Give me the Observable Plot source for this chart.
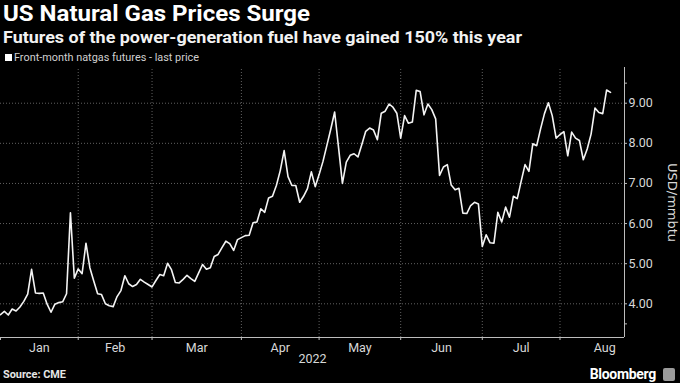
<!DOCTYPE html>
<html>
<head>
<meta charset="utf-8">
<script src="https://cdn.jsdelivr.net/npm/d3@7"></script>
<script src="https://cdn.jsdelivr.net/npm/@observablehq/plot@0.6"></script>
<style>
  html, body { margin: 0; padding: 0; background: #000; }
  body { width: 680px; height: 383px; overflow: hidden; position: relative; font-family: "Roboto", "Liberation Sans", sans-serif; }
  .hdr { position: relative; height: 62px; }
  .title { position: absolute; left: 3px; top: 1px; font-size: 22px; font-weight: 700; color: #fff; white-space: nowrap; transform-origin: 0 0; }
  .subtitle { position: absolute; left: 3px; top: 28px; font-size: 16px; font-weight: 700; color: #f2f2f2; white-space: nowrap; transform-origin: 0 0; }
  .legend { position: absolute; left: 5px; top: 51px; font-size: 11px; color: #d0d0d0; white-space: nowrap; display: flex; align-items: center; }
  .legend .sw { width: 7px; height: 7px; background: #fff; margin-right: 2px; display: inline-block; }
  .legend .lt { display: inline-block; transform-origin: 0 50%; }
  #chart svg { display: block; }
  .ftr { position: relative; height: 15px; }
  .src { position: absolute; left: 3px; top: 0px; font-size: 11px; font-weight: 700; color: #e6e6e6; white-space: nowrap; transform-origin: 0 0; }
  .bb { position: absolute; right: 24px; top: -2px; font-size: 14px; font-weight: 700; color: #fff; white-space: nowrap; letter-spacing: -0.3px; }
  .logo { position: absolute; right: 5px; top: 0px; width: 12px; height: 13px; background: #9a9a9a; border-radius: 2px; }
</style>
</head>
<body>
<div class="hdr">
  <div class="title" id="title">US Natural Gas Prices Surge</div>
  <div class="subtitle" id="subtitle">Futures of the power-generation fuel have gained 150% this year</div>
  <div class="legend"><span class="sw"></span><span class="lt" id="legendText">Front-month natgas futures - last price</span></div>
</div>
<div id="chart"></div>
<div class="ftr">
  <div class="src" id="src">Source: CME</div>
  <div class="bb">Bloomberg</div>
  <div class="logo"></div>
</div>
<script>
// Month labels and number of trading days in each month (first point is 2021-12-31)
const months = ["Jan", "Feb", "Mar", "Apr", "May", "Jun", "Jul", "Aug"];
const tradingDaysPerMonth = [20, 19, 23, 20, 21, 21, 20, 23];
const yearLabel = "2022";
const yTicks = [4, 5, 6, 7, 8, 9];
const yMinorTicks = [3.5, 9.5];
const seriesName = "Front-month natgas futures - last price";
const yLabel = "USD/mmbtu";

// Front-month natgas futures, last price (USD/mmbtu), one per trading day from Dec 31 2021
const prices = [
  3.73, 3.81, 3.72, 3.87, 3.82, 3.92, 4.06, 4.24, 4.86, 4.27,
  4.26, 4.27, 3.99, 3.79, 3.99, 4.03, 4.05, 4.25, 6.27, 4.64,
  4.87, 4.75, 5.51, 4.90, 4.57, 4.25, 4.23, 4.00, 3.95, 3.93,
  4.18, 4.33, 4.70, 4.50, 4.43, 4.48, 4.61, 4.54, 4.48, 4.42,
  4.58, 4.73, 4.70, 5.01, 4.85, 4.53, 4.52, 4.61, 4.71, 4.63,
  4.56, 4.77, 4.98, 4.86, 4.90, 5.18, 5.23, 5.40, 5.56, 5.50,
  5.33, 5.60, 5.65, 5.70, 5.71, 6.02, 6.04, 6.37, 6.28, 6.64,
  6.68, 6.95, 7.32, 7.82, 7.17, 6.95, 6.95, 6.53, 6.68, 6.87,
  7.29, 6.92, 7.22, 7.55, 7.95, 8.35, 8.78, 7.90, 7.00, 7.53,
  7.70, 7.74, 7.66, 7.97, 8.30, 8.38, 8.33, 8.09, 8.75, 8.80,
  8.98, 8.90, 8.75, 8.13, 8.69, 8.50, 8.53, 9.32, 9.29, 8.71,
  8.98, 8.84, 8.61, 7.20, 7.41, 7.47, 6.96, 6.84, 6.88, 6.26,
  6.25, 6.45, 6.53, 6.49, 5.43, 5.72, 5.52, 5.51, 6.28, 6.04,
  6.41, 6.16, 6.68, 6.62, 7.05, 7.47, 7.30, 7.99, 7.94, 8.36,
  8.74, 9.01, 8.69, 8.13, 8.22, 8.29, 7.69, 8.28, 8.13, 8.07,
  7.59, 7.86, 8.23, 8.88, 8.77, 8.74, 9.33, 9.27
];

const data = prices.map((v, i) => ({i, v}));
// month boundaries (index of last trading day of previous month) and mid-month label positions
const bounds = [0];
tradingDaysPerMonth.forEach((n, k) => bounds.push(bounds[k] + n));
const monthStarts = bounds.slice(0, months.length);
const monthLabels = months.map((m, k) => ({m, x: (bounds[k] + bounds[k + 1]) / 2}));

const xMax = 160.6, yMin = 3.16, yMax = 9.89;
const pxPerDay = 624 / xMax;
const tickLen = 3 / pxPerDay;

const gridStyle = {stroke: "#8a8a8a", strokeOpacity: 0.7, strokeDasharray: "1,2", strokeWidth: 1};

const chart = Plot.plot({
  width: 680,
  height: 306,
  marginTop: 5,
  marginRight: 56,
  marginBottom: 31,
  marginLeft: 0,
  style: {background: "#000", color: "#d8d8d8", fontFamily: "Roboto, 'Liberation Sans', sans-serif", fontSize: "12px"},
  x: {domain: [0, xMax], axis: null},
  y: {domain: [yMin, yMax], axis: null},
  marks: [
    Plot.ruleY(yTicks, {x1: 0, x2: xMax, ...gridStyle}),
    Plot.ruleX(monthStarts.slice(1), {y1: yMin, y2: yMax, ...gridStyle}),
    // axes
    Plot.ruleY([yMin], {x1: 0, x2: xMax, stroke: "#bdbdbd", strokeWidth: 1}),
    Plot.ruleX([xMax], {y1: yMin, y2: yMax, stroke: "#bdbdbd", strokeWidth: 1}),
    Plot.ruleY(yTicks.concat(yMinorTicks), {x1: xMax, x2: xMax + tickLen, stroke: "#bdbdbd", strokeWidth: 1}),
    Plot.ruleX(monthStarts, {y1: yMin, y2: yMin - 3 * (yMax - yMin) / 270, stroke: "#bdbdbd", strokeWidth: 1}),
    // series
    Plot.line(data, {x: "i", y: "v", stroke: "#f4f4f4", strokeWidth: 1.6, strokeLinejoin: "round"}),
    // labels
    Plot.text(yTicks, {x: xMax, y: d => d, text: d => d.toFixed(2), dx: 4, textAnchor: "start", fill: "#d8d8d8", fontSize: 12.5}),
    Plot.text(monthLabels, {x: "x", y: yMin, text: "m", dy: 10, fill: "#d8d8d8", fontSize: 12.5}),
    Plot.text([yearLabel], {frameAnchor: "bottom", dy: 25, fill: "#d8d8d8", fontSize: 12.5}),
    Plot.text([yLabel], {frameAnchor: "right", textAnchor: "middle", dx: 48, rotate: 90, fill: "#d8d8d8", fontSize: 13, fontFamily: "'DejaVu Sans', sans-serif"})
  ]
});
document.getElementById("chart").appendChild(chart);
document.getElementById("legendText").textContent = seriesName;

function fit(id, target) {
  const el = document.getElementById(id);
  el.style.transform = "none";
  const w = el.getBoundingClientRect().width;
  if (w > 0) el.style.transform = `scaleX(${target / w})`;
}
function fitAll() {
  fit("title", 307);
  fit("subtitle", 519);
  fit("legendText", 185);
  fit("src", 63);
}
fitAll();
if (document.fonts && document.fonts.ready) document.fonts.ready.then(fitAll);
</script>
</body>
</html>
